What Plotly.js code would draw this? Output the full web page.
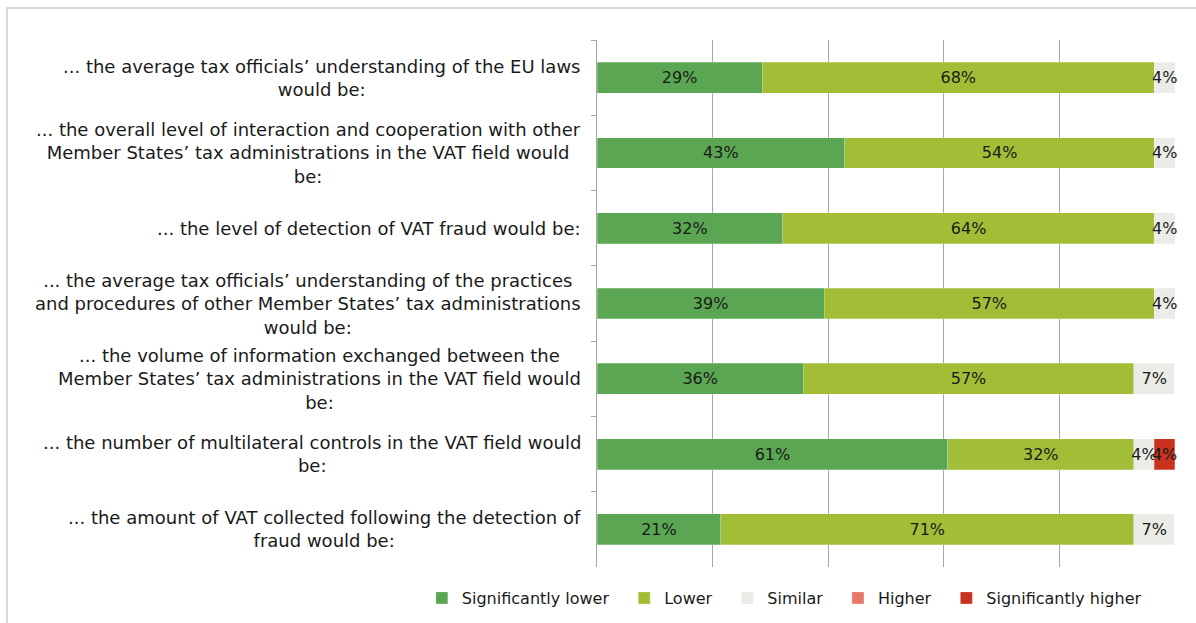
<!DOCTYPE html>
<html>
<head>
<meta charset="utf-8">
<script src="https://cdn.plot.ly/plotly-3.0.1.min.js"></script>
<style>
html,body{margin:0;padding:0;background:#fff;}
#wrap{position:relative;width:1196px;height:623px;overflow:hidden;}
#chart{position:absolute;left:0;top:0;width:1196px;height:623px;}
#frame{position:absolute;left:6px;top:7px;width:1300px;height:700px;border-top:2px solid #dadad4;border-left:2px solid #dadad4;pointer-events:none;}
</style>
</head>
<body>
<div id="wrap"><div id="chart"></div><div id="frame"></div></div>
<script>
const categories = [
  "... the average tax officials’ understanding of the EU laws<br>would be:",
  "... the overall level of interaction and cooperation with other<br>Member States’ tax administrations in the VAT field would<br>be:",
  "... the level of detection of VAT fraud would be:",
  "... the average tax officials’ understanding of the practices<br>and procedures of other Member States’ tax administrations<br>would be:",
  "... the volume of information exchanged between the<br>Member States’ tax administrations in the VAT field would<br>be:",
  "... the number of multilateral controls in the VAT field would<br>be:",
  "... the amount of VAT collected following the detection of<br>fraud would be:"
];
const seriesNames = ["Significantly lower", "Lower", "Similar", "Higher", "Significantly higher"];
const sigLower  = [28.57, 42.86, 32.14, 39.29, 35.71, 60.71, 21.43];
const lower     = [67.86, 53.57, 64.29, 57.14, 57.14, 32.14, 71.42];
const similar   = [3.57, 3.57, 3.57, 3.57, 7.14, 3.57, 7.14];
const higher    = [0, 0, 0, 0, 0, 0, 0];
const sigHigher = [0, 0, 0, 0, 0, 3.57, 0];
const colors = ["#5ba652", "#a2be36", "#ebebe7", "#e8786a", "#c8321e"];

const FONT = "'DejaVu Sans', Verdana, sans-serif";
const allSeries = [sigLower, lower, similar, higher, sigHigher];
const PAD = "\u00a0\u00a0";

const traces = allSeries.map((vals, i) => ({
  type: 'bar',
  orientation: 'h',
  name: seriesNames[i] + PAD,
  y: categories,
  x: vals,
  text: vals.map(v => v > 0 ? Math.round(v) + '%' : ''),
  textposition: 'inside',
  insidetextanchor: 'middle',
  constraintext: 'none',
  textangle: 0,
  cliponaxis: false,
  textfont: {family: FONT, size: 16, color: '#1a1a1a'},
  marker: {color: colors[i], line: {color: 'rgba(255,255,255,0.5)', width: 0.5}},
  hoverinfo: 'name+x'
}));

const annotations = categories.map(c => ({
  x: 0, xref: 'paper', xanchor: 'right', xshift: -14,
  y: c, yref: 'y', yanchor: 'middle',
  text: c, align: 'center', showarrow: false,
  font: {family: FONT, size: 18, color: '#1a1a1a'}
}));

const layout = {
  width: 1196, height: 623,
  margin: {l: 597, r: 21, t: 40, b: 56, pad: 0, autoexpand: false},
  barmode: 'stack',
  bargap: 0.59,
  paper_bgcolor: '#ffffff',
  plot_bgcolor: '#ffffff',
  font: {family: FONT, size: 16, color: '#1a1a1a'},
  xaxis: {
    range: [0, 100], dtick: 20, tick0: 0,
    showgrid: true, gridcolor: '#a6a6a6', gridwidth: 1,
    showticklabels: false, zeroline: false, showline: false, ticks: ''
  },
  yaxis: {
    autorange: 'reversed',
    type: 'category',
    showticklabels: false,
    showline: true, linecolor: '#a6a6a6', linewidth: 1,
    ticks: 'outside', tickson: 'boundaries', ticklen: 5, tickcolor: '#a6a6a6',
    showgrid: false, zeroline: false
  },
  legend: {
    orientation: 'h',
    x: -0.303, xanchor: 'left',
    y: -0.0588, yanchor: 'middle',
    traceorder: 'normal',
    font: {family: FONT, size: 16, color: '#1a1a1a'},
    itemwidth: 30,
    bgcolor: 'rgba(0,0,0,0)'
  },
  annotations: annotations,
  showlegend: true
};

Plotly.newPlot('chart', traces, layout, {displayModeBar: false, staticPlot: true});
</script>
</body>
</html>
